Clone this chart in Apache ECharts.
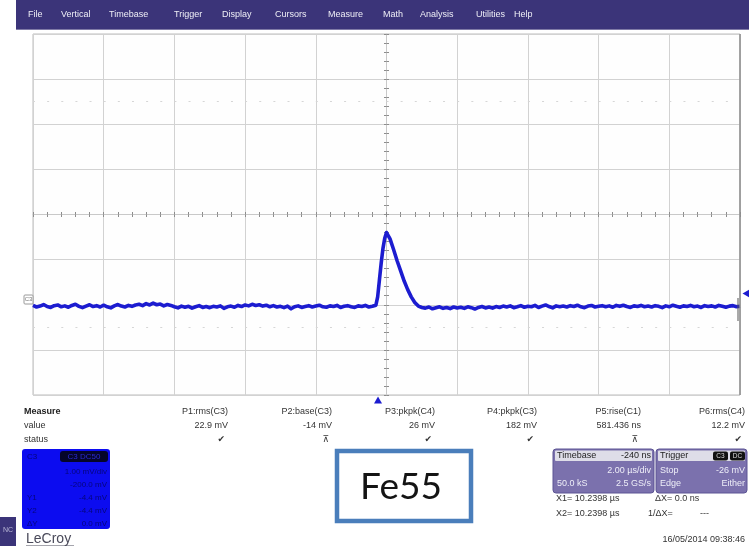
<!DOCTYPE html>
<html>
<head>
<meta charset="utf-8">
<script src="https://cdn.jsdelivr.net/npm/echarts@6/dist/echarts.min.js"></script>
<style>
html,body{margin:0;padding:0;background:#fff;}
#scope{width:749px;height:546px;}
</style>
</head>
<body>
<div id="scope"></div>
<script>
// ---- acquired trace (time in µs, amplitude in mV, 20 mV/div, 2 µs/div) ----
const preTimeUs = [
  -10.0,-9.9,-9.8,-9.7,-9.6,-9.5,-9.4,-9.3,-9.2,-9.1,
  -9.0,-8.9,-8.8,-8.7,-8.6,-8.5,-8.4,-8.3,-8.2,-8.1,
  -8.0,-7.9,-7.8,-7.7,-7.6,-7.5,-7.4,-7.3,-7.2,-7.1,
  -7.0,-6.9,-6.8,-6.7,-6.6,-6.5,-6.4,-6.3,-6.2,-6.1,
  -6.0,-5.9,-5.8,-5.7,-5.6,-5.5,-5.4,-5.3,-5.2,-5.1,
  -5.0,-4.9,-4.8,-4.7,-4.6,-4.5,-4.4,-4.3,-4.2,-4.1,
  -4.0,-3.9,-3.8,-3.7,-3.6,-3.5,-3.4,-3.3,-3.2,-3.1,
  -3.0,-2.9,-2.8,-2.7,-2.6,-2.5,-2.4,-2.3,-2.2,-2.1,
  -2.0,-1.9,-1.8,-1.7,-1.6,-1.5,-1.4,-1.3,-1.2,-1.1,
  -1.0,-0.9,-0.8,-0.7,-0.6,-0.5
];
const preMv = [
  -40.3,-41.0,-40.6,-39.9,-40.8,-41.2,-40.4,-40.1,-40.9,-40.5,
  -41.1,-40.3,-39.8,-40.7,-41.3,-40.6,-40.0,-40.8,-40.4,-41.0,
  -40.2,-40.9,-41.4,-40.5,-39.9,-40.6,-41.0,-40.3,-40.7,-40.1,
  -39.8,-40.4,-39.5,-40.1,-39.3,-40.0,-39.7,-40.5,-39.9,-40.3,
  -40.9,-41.4,-40.6,-41.1,-40.7,-41.5,-40.9,-40.4,-41.2,-40.8,
  -41.3,-40.7,-41.0,-40.5,-41.6,-40.9,-40.6,-41.1,-40.3,-40.8,
  -40.1,-40.5,-39.8,-40.3,-40.0,-40.6,-40.2,-40.9,-40.4,-41.0,
  -40.7,-41.3,-40.6,-41.8,-40.9,-40.5,-41.2,-40.8,-40.4,-41.0,
  -40.6,-40.2,-40.9,-41.1,-40.5,-40.8,-40.3,-41.2,-40.7,-40.4,
  -40.9,-41.2,-40.5,-40.8,-40.3,-41.0
];
const pulseTimeUs = [-0.4,-0.35,-0.3,-0.25,-0.2,-0.15,-0.1,-0.05,0,0.05,0.1,0.2,0.3,0.4,0.5,0.6,0.7,0.8,0.9,1.0];
const pulseMv     = [-40.7,-40.9,-40.2,-36.5,-29.0,-21.5,-15.0,-10.5,-8.0,-8.6,-10.8,-15.5,-20.5,-25.0,-29.5,-33.3,-36.5,-39.0,-40.6,-41.2];
const postTimeUs = [
  1.1,1.2,1.3,1.4,1.5,1.6,1.7,1.8,1.9,2.0,
  2.1,2.2,2.3,2.4,2.5,2.6,2.7,2.8,2.9,3.0,
  3.1,3.2,3.3,3.4,3.5,3.6,3.7,3.8,3.9,4.0,
  4.1,4.2,4.3,4.4,4.5,4.6,4.7,4.8,4.9,5.0,
  5.1,5.2,5.3,5.4,5.5,5.6,5.7,5.8,5.9,6.0,
  6.1,6.2,6.3,6.4,6.5,6.6,6.7,6.8,6.9,7.0,
  7.1,7.2,7.3,7.4,7.5,7.6,7.7,7.8,7.9,8.0,
  8.1,8.2,8.3,8.4,8.5,8.6,8.7,8.8,8.9,9.0,
  9.1,9.2,9.3,9.4,9.5,9.6,9.7,9.8,9.9,10.0
];
const postMv = [
  -41.5,-41.0,-41.8,-41.3,-40.9,-41.6,-41.2,-41.7,-41.0,-41.4,
  -41.1,-41.6,-40.9,-41.3,-41.9,-41.2,-40.8,-41.4,-41.0,-41.5,
  -40.8,-41.2,-40.6,-41.0,-40.5,-41.3,-40.9,-40.4,-41.1,-40.7,
  -40.9,-40.3,-41.2,-40.6,-40.1,-40.8,-41.4,-40.5,-40.9,-40.6,
  -41.0,-40.4,-40.8,-40.2,-40.9,-41.3,-40.6,-40.3,-41.0,-40.7,
  -40.4,-40.9,-40.5,-41.1,-40.3,-40.7,-40.2,-40.8,-41.2,-40.5,
  -40.8,-40.3,-40.9,-40.6,-41.0,-40.4,-40.7,-41.3,-40.5,-40.9,
  -40.2,-40.7,-41.1,-40.5,-40.8,-40.3,-40.9,-40.6,-41.2,-40.4,
  -40.8,-40.5,-41.0,-40.3,-40.7,-41.1,-40.6,-40.4,-40.9,-40.7
];
const triggerDelayUs = -0.24;   // timebase delay marker
const offsetMarkerMv = -35;     // channel marker on the right edge

// ---- menu, measurement table and status panels ----
const menuItems = ['File','Vertical','Timebase','Trigger','Display','Cursors','Measure','Math','Analysis','Utilities','Help'];
const measureNames  = ['P1:rms(C3)','P2:base(C3)','P3:pkpk(C4)','P4:pkpk(C3)','P5:rise(C1)','P6:rms(C4)'];
const measureValues = ['22.9 mV','-14 mV','26 mV','182 mV','581.436 ns','12.2 mV'];
const measureStatus = ['ok','na','ok','ok','na','ok'];
const channelLines  = ['1.00 mV/div','-200.0 mV','-4.4 mV','-4.4 mV','0.0 mV'];
const channelTags   = ['','','Y1','Y2','ΔY'];
const timebaseInfo  = {delay:'-240 ns', perDiv:'2.00 µs/div', points:'50.0 kS', rate:'2.5 GS/s'};
const triggerInfo   = {mode:'Stop', level:'-26 mV', type:'Edge', slope:'Either'};
const cursorInfo    = ['X1= 10.2398 µs','ΔX= 0.0 ns','X2= 10.2398 µs','1/ΔX=','---'];
const stampText     = '16/05/2014 09:38:46';
const annotation    = 'Fe55';

// layout of the screen furniture (pixels)
const menuX = [28,61,109,174,222,275,328,383,420,476,514];
const measureRight = [228,332,435,537,641,745];

const tracePoints = [];
preTimeUs.forEach((t,i)=>tracePoints.push([t, preMv[i]]));
pulseTimeUs.forEach((t,i)=>tracePoints.push([t, pulseMv[i]]));
postTimeUs.forEach((t,i)=>tracePoints.push([t, postMv[i]]));

const FONT = '"Liberation Sans", Arial, sans-serif';
const TRACE = '#1c1cd0';
const MENU_BG = '#3b3479';

function txt(x, y, s, o) {
  o = o || {};
  return {
    type:'text', x:x, y:y, silent:true, z:o.z || 10,
    style:{
      text:s, fill:o.fill || '#333', align:o.align || 'left', verticalAlign:'middle',
      font:(o.weight || 'normal') + ' ' + (o.size || 9) + 'px ' + (o.family || FONT)
    }
  };
}
function rect(x, y, w, h, style, r, z) {
  return {type:'rect', silent:true, z:z || 5, shape:{x:x, y:y, width:w, height:h, r:r || 0}, style:style};
}

const g = [];
// menu bar
g.push(rect(16, 0, 733, 30, {fill:MENU_BG}));
g.push(rect(16, 29, 733, 1, {fill:'#7f7aa6'}));
menuItems.forEach((m,i)=>g.push(txt(menuX[i], 15, m, {fill:'#eeeef6', size:9})));

// right border of the graticule and channel label at the left
g.push({type:'line', silent:true, z:6, shape:{x1:740, y1:34, x2:740, y2:395}, style:{stroke:'#8e8e8e', lineWidth:1.5}});
g.push({type:'line', silent:true, z:6, shape:{x1:738, y1:298, x2:738, y2:321}, style:{stroke:'#555', lineWidth:1}});
g.push(rect(24, 295, 9, 9, {fill:'#fff', stroke:'#9a9a9a', lineWidth:1}, 1, 7));
g.push(txt(28.5, 299.5, 'C3', {fill:'#777', size:6, align:'center', z:8}));

// measurement table
g.push(txt(24, 412, 'Measure', {weight:'bold', fill:'#222'}));
g.push(txt(24, 426, 'value', {fill:'#333'}));
g.push(txt(24, 440, 'status', {fill:'#333'}));
measureNames.forEach((n,i)=>{
  g.push(txt(measureRight[i], 412, n, {align:'right'}));
  g.push(txt(measureRight[i], 426, measureValues[i], {align:'right'}));
  g.push(txt(measureRight[i] - 3, 440, measureStatus[i] === 'ok' ? '✔' : '⊼',
             {align:'right', size:9, fill:'#333', family:'"DejaVu Sans", sans-serif'}));
});

// channel descriptor box
g.push(rect(22, 449, 88, 80, {fill:'#0c0cf0'}, 3));
g.push(rect(60, 451, 48, 11, {fill:'#05052a'}, 3, 6));
g.push(txt(84, 456.5, 'C3 DC50', {fill:'#2a2ad0', size:8, align:'center', z:11}));
g.push(txt(27, 456.5, 'C3', {fill:'#06067a', size:8}));
channelLines.forEach((s,i)=>{
  g.push(txt(107, 472 + i*13, s, {fill:'#06067a', size:8, align:'right'}));
  if (channelTags[i]) g.push(txt(27, 472 + i*13, channelTags[i], {fill:'#06067a', size:8}));
});
g.push(rect(0, 517, 16, 29, {fill:MENU_BG}));
g.push(txt(3, 530, 'NC', {fill:'#b9b7d6', size:7}));
g.push(txt(26, 539, 'LeCroy', {fill:'#4a4a5a', size:14}));
g.push({type:'line', silent:true, z:10, shape:{x1:26, y1:546, x2:74, y2:546}, style:{stroke:'#4a4a5a', lineWidth:1}});

// annotation box
g.push(rect(337, 451, 134, 70, {fill:'#fff', stroke:'#4a7ebb', lineWidth:4.5}));
g.push(txt(401, 487, annotation, {fill:'#141414', size:37, align:'center', family:'Lato, "Open Sans", sans-serif'}));

// timebase panel
g.push(rect(553, 449, 101, 44, {fill:'#7b71ad', stroke:'#5c5494', lineWidth:1}, 3));
g.push(rect(555, 450.5, 97, 10.5, {fill:'#dedde8'}, 1, 6));
g.push(txt(557, 456, 'Timebase', {fill:'#222', size:9}));
g.push(txt(651, 456, timebaseInfo.delay, {fill:'#222', size:9, align:'right'}));
g.push(txt(651, 471, timebaseInfo.perDiv, {fill:'#eeeef8', size:9, align:'right'}));
g.push(txt(557, 484, timebaseInfo.points, {fill:'#eeeef8', size:9}));
g.push(txt(651, 484, timebaseInfo.rate, {fill:'#eeeef8', size:9, align:'right'}));

// trigger panel
g.push(rect(656, 449, 91, 44, {fill:'#7b71ad', stroke:'#5c5494', lineWidth:1}, 3));
g.push(rect(658, 450.5, 87, 10.5, {fill:'#dedde8'}, 1, 6));
g.push(txt(660, 456, 'Trigger', {fill:'#222', size:9}));
g.push(rect(713, 451.5, 15, 9, {fill:'#111'}, 2, 7));
g.push(rect(730, 451.5, 15, 9, {fill:'#111'}, 2, 7));
g.push(txt(720.5, 456, 'C3', {fill:'#ddd', size:6.5, align:'center', z:12}));
g.push(txt(737.5, 456, 'DC', {fill:'#ddd', size:6.5, align:'center', z:12}));
g.push(txt(660, 471, triggerInfo.mode, {fill:'#eeeef8', size:9}));
g.push(txt(745, 471, triggerInfo.level, {fill:'#eeeef8', size:9, align:'right'}));
g.push(txt(660, 484, triggerInfo.type, {fill:'#eeeef8', size:9}));
g.push(txt(745, 484, triggerInfo.slope, {fill:'#eeeef8', size:9, align:'right'}));

// cursor readout and time stamp
g.push(txt(556, 499, cursorInfo[0], {size:9}));
g.push(txt(655, 499, cursorInfo[1], {size:9}));
g.push(txt(556, 514, cursorInfo[2], {size:9}));
g.push(txt(648, 514, cursorInfo[3], {size:9}));
g.push(txt(700, 514, cursorInfo[4], {size:9}));
g.push(txt(745, 540, stampText, {size:9, align:'right'}));

const tickStyle = {color:'#8c8c8c', width:1};
function centreX(pos) {
  return {
    type:'value', min:-10, max:10, interval:2, position:pos,
    axisLine:{show:pos === 'bottom', onZero:true, lineStyle:{color:'#c9c9c9'}},
    axisTick:{show:true, inside:true, length:2.5, lineStyle:tickStyle},
    minorTick:{show:true, splitNumber:5, length:2.5, lineStyle:tickStyle},
    axisLabel:{show:false},
    splitLine:{show:pos === 'bottom', lineStyle:{color:'#d2d2d2', width:1}},
    minorSplitLine:{show:false}
  };
}
function centreY(pos) {
  return {
    type:'value', min:-80, max:80, interval:20, position:pos,
    axisLine:{show:pos === 'left', onZero:true, lineStyle:{color:'#c9c9c9'}},
    axisTick:{show:true, inside:true, length:2.5, lineStyle:tickStyle},
    minorTick:{show:true, splitNumber:5, length:2.5, lineStyle:tickStyle},
    axisLabel:{show:false},
    splitLine:{show:pos === 'left', lineStyle:{color:'#d2d2d2', width:1}},
    minorSplitLine:{show:false}
  };
}

const chart = echarts.init(document.getElementById('scope'), null, {renderer:'canvas'});
chart.setOption({
  animation:false,
  backgroundColor:'#ffffff',
  grid:{left:33, top:34, width:707, height:361, show:true, borderColor:'#bdbdbd', borderWidth:1, backgroundColor:'#fefefe'},
  xAxis:[centreX('bottom'), centreX('top')],
  yAxis:[centreY('left'), centreY('right')],
  series:[{
    type:'line', xAxisIndex:0, yAxisIndex:0,
    data:tracePoints, showSymbol:false, symbol:'none', z:5,
    lineStyle:{color:TRACE, width:3.6, join:'round'},
    markLine:{
      silent:true, symbol:'none', label:{show:false},
      lineStyle:{color:'#d6d6d6', width:1, type:[2, 12.14]},
      data:[{yAxis:50}, {yAxis:-50}]
    },
    markPoint:{
      silent:true, label:{show:false},
      data:[
        {coord:[triggerDelayUs, -80], symbol:'triangle', symbolSize:[8,7], symbolOffset:[0,5], itemStyle:{color:TRACE}},
        {coord:[10, offsetMarkerMv], symbol:'triangle', symbolRotate:90, symbolSize:[8,7], symbolOffset:[6,0], itemStyle:{color:TRACE}}
      ]
    }
  }],
  graphic:g
});
</script>
</body>
</html>
